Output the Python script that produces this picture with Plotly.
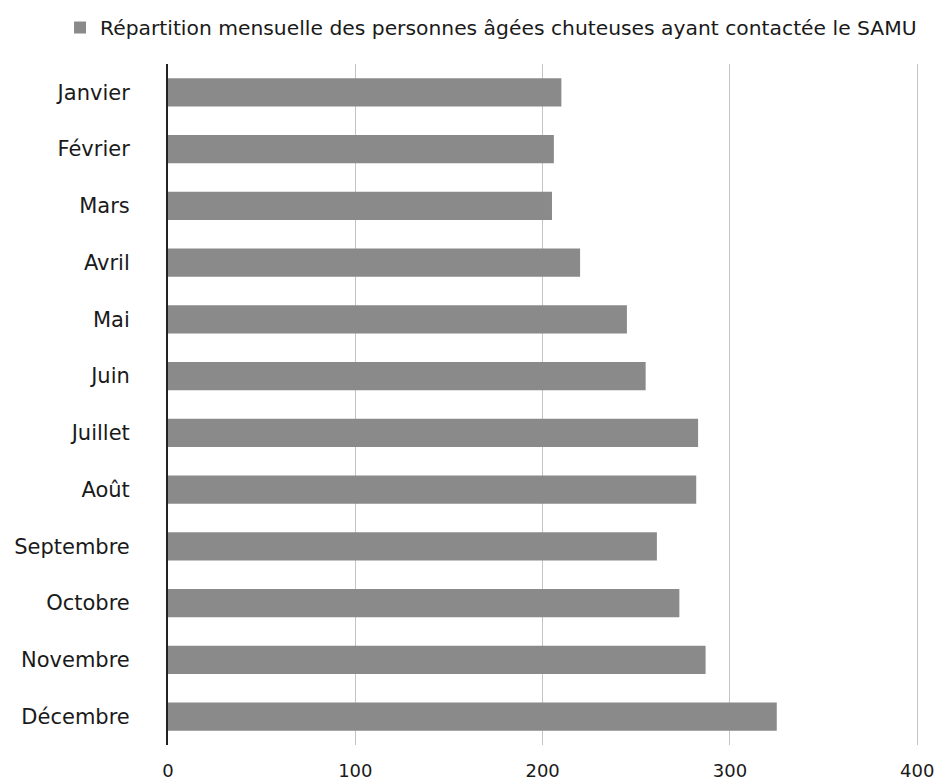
import plotly.graph_objects as go

# monthly counts of elderly fallers who called the SAMU
mois = ['Janvier', 'Février', 'Mars', 'Avril', 'Mai', 'Juin',
        'Juillet', 'Août', 'Septembre', 'Octobre', 'Novembre', 'Décembre']
appels = [210, 206, 205, 220, 245, 255, 283, 282, 261, 273, 287, 325]
x_ticks = [0, 100, 200, 300, 400]
serie = 'Répartition mensuelle des personnes âgées chuteuses ayant contactée le SAMU'

fig = go.Figure()
fig.add_trace(go.Bar(
    x=appels, y=mois, orientation='h', name=serie,
    marker=dict(color='#8a8a8a', line=dict(width=0)),
    width=0.5,
    showlegend=True,
))

fig.update_layout(
    width=938, height=784,
    margin=dict(l=168, r=17, t=64, b=39),
    paper_bgcolor='white', plot_bgcolor='white',
    font=dict(family='DejaVu Sans, sans-serif', color='#1a1a1a', size=18),
    legend=dict(
        orientation='h', xref='container', yref='container',
        x=0.064, y=0.99, xanchor='left', yanchor='top',
        font=dict(size=20.3), itemwidth=30,
    ),
    xaxis=dict(
        # a little past 400 so the last grid line is not clipped
        range=[0, 402], tickvals=x_ticks, showgrid=True,
        gridcolor='#c4c4c4', gridwidth=1, zeroline=False,
        showline=False, tickfont=dict(size=18),
        ticklabelstandoff=13, automargin=False,
    ),
    yaxis=dict(
        autorange='reversed', showline=True, linecolor='#222222', linewidth=2,
        showgrid=False, ticklabelstandoff=32, tickfont=dict(size=21),
        automargin=False,
    ),
)

# drop the default page margin so the figure fills the window exactly
fig.write_html("out.html", config={'displayModeBar': False},
               post_script="document.body.style.margin='0';document.body.style.overflow='hidden';")
